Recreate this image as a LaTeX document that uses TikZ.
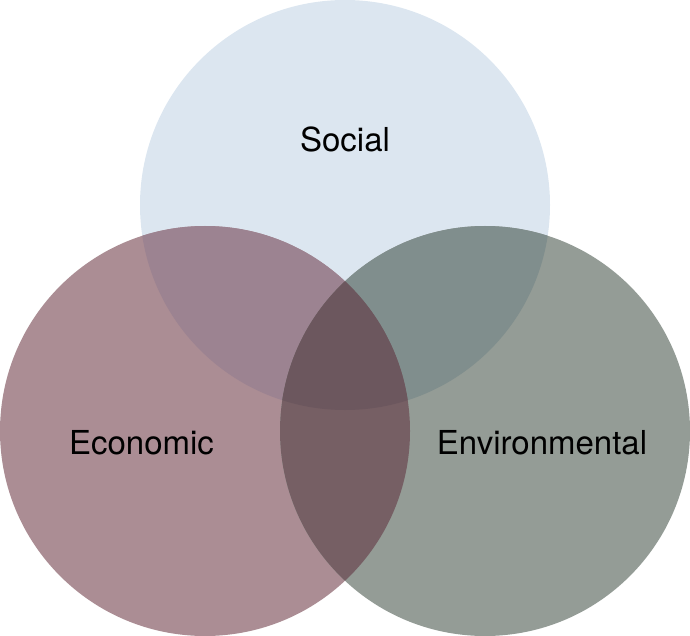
\documentclass[tikz,border=0pt]{standalone}
\usepackage{fontspec}
\setmainfont{TeX Gyre Heros}
\definecolor{socialfill}{HTML}{DCE6F0}
\definecolor{econfill}{HTML}{AB8D94}
\definecolor{envfill}{HTML}{949C96}
\definecolor{econsoc}{HTML}{9C8391}
\definecolor{envsoc}{HTML}{808E8D}
\definecolor{econenv}{HTML}{765F64}
\definecolor{allthree}{HTML}{6C575E}
\tikzset{
    x=1pt, y=-1pt,
    ring/.style={radius=205pt},
    lbl/.style={anchor=base, inner sep=0pt, font=\fontsize{33}{40}\selectfont},
}

\begin{document}
\begin{tikzpicture}

\useasboundingbox (0,0) rectangle (690,636);

\coordinate (soc) at (345,205);
\coordinate (eco) at (205,431);
\coordinate (env) at (485,431);

% circles
\fill[socialfill] (soc) circle[ring];
\fill[econfill] (eco) circle[ring];
\fill[envfill] (env) circle[ring];

% pairwise overlaps
\begin{scope}
  \clip (soc) circle[ring];
  \fill[econsoc] (eco) circle[ring];
  \fill[envsoc] (env) circle[ring];
\end{scope}
\begin{scope}
  \clip (eco) circle[ring];
  \fill[econenv] (env) circle[ring];
  \clip (env) circle[ring];
  \fill[allthree] (soc) circle[ring];
\end{scope}

% labels
\node[lbl] (socialtxt) at (345,152) {Social};
\node[lbl] (econtxt) at (141.5,454) {Economic};
\node[lbl] (envtxt) at (542,454) {Environmental};

\end{tikzpicture}
\end{document}
